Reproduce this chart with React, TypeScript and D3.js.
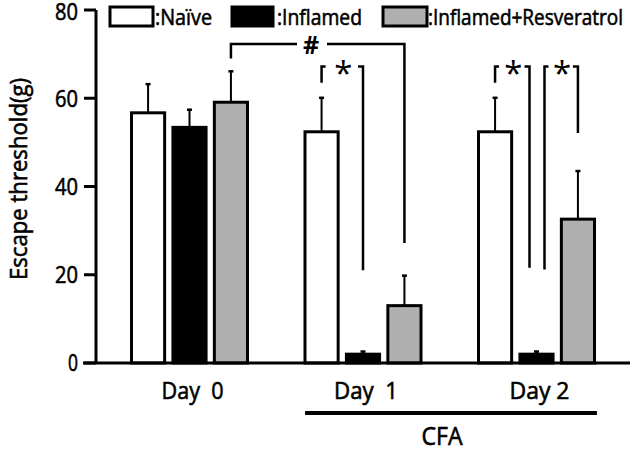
import React from "react";
import * as d3 from "d3";

const days = ["Day  0", "Day  1", "Day 2"];
const series = ["Naïve", "Inflamed", "Inflamed+Resveratrol"];
const fills = ["#ffffff", "#000000", "#b0b0b0"];
// mean values per day for each series
const naive = [56.7, 52.4, 52.4];
const inflamed = [53.4, 2.0, 2.0];
const resveratrol = [59.1, 13.0, 32.6];
// upper error bar ends
const naiveErr = [63.2, 60.1, 60.1];
const inflamedErr = [57.4, 2.6, 2.6];
const resveratrolErr = [66.1, 19.8, 43.5];
const yTicks = [0, 20, 40, 60, 80];

// significance brackets: [day, series] left / right, top value, bottom values, label
const brackets = [
  { l: [0, 2], r: [1, 2], lo: 0, ro: 0, top: 72.3, lBot: 69.0, rBot: 27.2, label: "#", short: false },
  { l: [1, 0], r: [1, 1], lo: 0, ro: 0, top: 67.2, lBot: 63.5, rBot: 21.0, label: "*", short: true },
  { l: [2, 0], r: [2, 1], lo: 0, ro: -7, top: 67.2, lBot: 63.5, rBot: 21.6, label: "*", short: true },
  { l: [2, 1], r: [2, 2], lo: 8, ro: 0, top: 67.2, lBot: 21.2, rBot: 52.1, label: "*", short: true },
];

const values = [naive, inflamed, resveratrol];
const errs = [naiveErr, inflamedErr, resveratrolErr];
const FONT = "'Open Sans', 'Noto Sans', sans-serif";
const TS = { stroke: "#000", strokeWidth: 0.6 };

export default function App() {
  const W = 633, H = 451;
  const y = d3.scaleLinear().domain([0, 80]).range([363, 10]);
  const x = d3.scaleBand().domain(days).range([102.75, 623.25]).padding(0);
  const sub = d3.scaleBand().domain(series).range([-58, 58]).paddingInner(0.2);
  const bw = sub.bandwidth();
  const cx = (d: number, s: number) => (x(days[d]) as number) + x.bandwidth() / 2 + (sub(series[s]) as number) + bw / 2;

  const dayLabelW = [62, 64, 60];

  return (
    <svg width={W} height={H} style={{ position: "absolute", left: 0, top: 0, background: "#fff" }} fontFamily={FONT}>
      <rect width={W} height={H} fill="#fff" />
      {/* bars */}
      {days.map((day, d) =>
        series.map((s, si) => {
          const v = values[si][d];
          const e = errs[si][d];
          const c = cx(d, si);
          return (
            <g key={day + s}>
              <line x1={c} x2={c} y1={y(v)} y2={y(e)} stroke="#000" strokeWidth={2} />
              <line x1={c - 2.5} x2={c + 2.5} y1={y(e)} y2={y(e)} stroke="#000" strokeWidth={2.5} />
              <rect x={c - bw / 2} y={y(v)} width={bw} height={y(0) - y(v)} fill={fills[si]} stroke="#000" strokeWidth={3} />
            </g>
          );
        })
      )}
      {/* axes */}
      <line x1={96} x2={96} y1={y(80)} y2={y(0)} stroke="#000" strokeWidth={3} />
      <line x1={83} x2={630} y1={y(0)} y2={y(0)} stroke="#000" strokeWidth={3} />
      {yTicks.map((t) => (
        <g key={t}>
          <line x1={84} x2={96} y1={y(t)} y2={y(t)} stroke="#000" strokeWidth={3} />
          <text x={78} y={Math.max(y(t), 12)} dy="0.36em" textAnchor="end" fontSize={23} fill="#000" {...TS} textLength={t === 0 ? 10 : 23} lengthAdjust="spacingAndGlyphs">{t}</text>
        </g>
      ))}
      <text transform={`translate(27,179) rotate(-90)`} textAnchor="middle" fontSize={24} fill="#000" {...TS} textLength={202} lengthAdjust="spacingAndGlyphs">Escape threshold(g)</text>
      {days.map((day, i) => (
        <text key={day} x={(x(day) as number) + x.bandwidth() / 2 + 3} y={399} textAnchor="middle" fontSize={24} fill="#000" {...TS} textLength={dayLabelW[i]} lengthAdjust="spacingAndGlyphs" style={{ whiteSpace: "pre" }}>{day}</text>
      ))}
      <line x1={cx(1, 0) - 16.5} x2={cx(2, 2) + 19} y1={413} y2={413} stroke="#000" strokeWidth={4} />
      <text x={442} y={445} textAnchor="middle" fontSize={25} fill="#000" {...TS} textLength={41} lengthAdjust="spacingAndGlyphs">CFA</text>
      {/* brackets */}
      {brackets.map((b, i) => {
        const x1 = cx(b.l[0], b.l[1]) + b.lo;
        const x2 = cx(b.r[0], b.r[1]) + b.ro;
        const yt = y(b.top);
        if (!b.short) {
          const mid = 311;
          return (
            <g key={i}>
              <path d={`M${x1},${y(b.lBot)}V${yt}H${mid - 14}M${mid + 16},${yt}H${x2}V${y(b.rBot)}`} fill="none" stroke="#000" strokeWidth={2.5} />
              <text x={mid} y={yt + 1} dy="0.36em" textAnchor="middle" fontSize={25} fontWeight="bold" fill="#000">{b.label}</text>
            </g>
          );
        }
        const mid = (x1 + x2) / 2;
        return (
          <g key={i}>
            <path d={`M${x1},${y(b.lBot)}V${yt}H${x1 + 4}`} fill="none" stroke="#000" strokeWidth={2.5} />
            <path d={`M${x2 - 5},${yt}H${x2}V${y(b.rBot)}`} fill="none" stroke="#000" strokeWidth={2.5} />
            <text x={mid + 1} y={yt + 19} textAnchor="middle" fontSize={33} fill="#000">{b.label}</text>
          </g>
        );
      })}
      {/* legend */}
      {[
        { bx: 110, bw: 43, tx: 155, tw: 57 },
        { bx: 232, bw: 41, tx: 277, tw: 85 },
        { bx: 383, bw: 44, tx: 428, tw: 195 },
      ].map((l, i) => (
        <g key={i}>
          <rect x={l.bx} y={7} width={l.bw} height={19} fill={fills[i]} stroke="#000" strokeWidth={3} />
          <text x={l.tx} y={25} fontSize={22} fill="#000" {...TS} textLength={l.tw} lengthAdjust="spacingAndGlyphs">{":" + series[i]}</text>
        </g>
      ))}
    </svg>
  );
}
